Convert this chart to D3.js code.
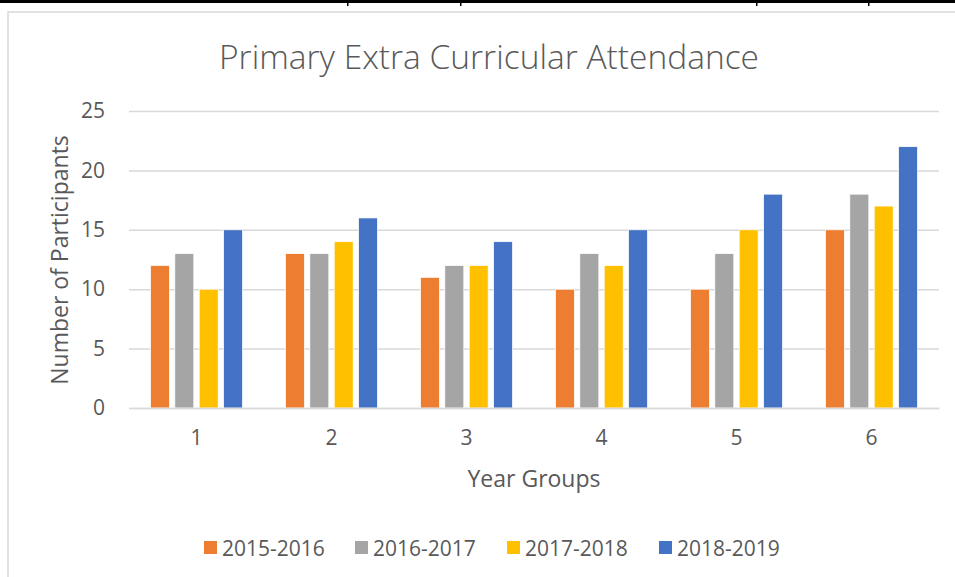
<!DOCTYPE html>
<html><head><meta charset="utf-8">
<script src="https://cdn.jsdelivr.net/npm/d3@7"></script>
<style>html,body{margin:0;padding:0;background:#fff;overflow:hidden}</style>
</head><body>
<svg id="c" width="955" height="577"></svg>
<script>
const categories = ["1","2","3","4","5","6"];
const seriesNames = ["2015-2016","2016-2017","2017-2018","2018-2019"];
const s2015 = [12,13,11,10,10,15];
const s2016 = [13,13,12,13,13,18];
const s2017 = [10,14,12,12,15,17];
const s2018 = [15,16,14,15,18,22];
const yTicks = [0,5,10,15,20,25];
const colors = ["#ED7D31","#A5A5A5","#FFC000","#4472C4"];
const seriesValues = [s2015,s2016,s2017,s2018];

const font = "'Open Sans', 'Noto Sans', sans-serif";
const svg = d3.select("#c");

// document table line
svg.append("rect").attr("x",0).attr("y",0).attr("width",955).attr("height",3).attr("fill","#000");
[347,460,756,868].forEach(x=>svg.append("rect").attr("x",x).attr("y",0).attr("width",1.5).attr("height",6).attr("fill","#000"));

// chart border
svg.append("rect").attr("x",8).attr("y",12).attr("width",960).attr("height",580)
  .attr("fill","#fff").attr("stroke","#D9D9D9").attr("stroke-width",1.5);

const pLeft=129, pRight=939, pTop=111, pBottom=408;
const x0 = d3.scaleBand().domain(categories).range([pLeft,pRight]).paddingInner(0.318).paddingOuter(0.159);
const x1 = d3.scaleBand().domain(seriesNames).range([0,x0.bandwidth()]).paddingInner(0.22);
const y = d3.scaleLinear().domain([0,25]).range([pBottom,pTop]);

// gridlines
const yAxis = d3.axisLeft(y).tickValues(yTicks).tickSize(-(pRight-pLeft)).tickPadding(24);
const gy = svg.append("g").attr("transform",`translate(${pLeft},0)`).call(yAxis);
gy.select(".domain").remove();
gy.selectAll(".tick line").attr("stroke","#D9D9D9").attr("stroke-width",1.5);
gy.selectAll(".tick text").attr("fill","#595959").style("font-family",font).style("font-size","21px");

// bars
const g = svg.append("g");
categories.forEach((c,ci)=>{
  seriesNames.forEach((s,si)=>{
    const v = seriesValues[si][ci];
    g.append("rect")
      .attr("x",x0(c)+x1(s)).attr("width",x1.bandwidth())
      .attr("y",y(v)).attr("height",y(0)-y(v))
      .attr("fill",colors[si]).attr("stroke","#fff").attr("stroke-width",0.75);
  });
});

// x axis
const xAxis = d3.axisBottom(x0).tickSize(0).tickPadding(22);
const gx = svg.append("g").attr("transform",`translate(0,${pBottom})`).call(xAxis);
gx.select(".domain").attr("stroke","#D9D9D9").attr("stroke-width",1.5);
gx.selectAll(".tick text").attr("fill","#595959").style("font-family",font).style("font-size","21px");

// title
svg.append("text").attr("x",489).attr("y",69).attr("text-anchor","middle")
  .attr("fill","#595959").style("font-family",font).style("font-size","33.5px").style("font-weight","300")
  .text("Primary Extra Curricular Attendance");

// axis titles
svg.append("text").attr("x",534).attr("y",487).attr("text-anchor","middle")
  .attr("fill","#595959").style("font-family",font).style("font-size","23px")
  .text("Year Groups");
svg.append("text").attr("transform","translate(68,260) rotate(-90)").attr("text-anchor","middle")
  .attr("fill","#595959").style("font-family",font).style("font-size","23px")
  .text("Number of Participants");

// legend
const legX = [204,355,507,659];
const leg = svg.append("g");
seriesNames.forEach((s,i)=>{
  leg.append("rect").attr("x",legX[i]).attr("y",541).attr("width",13).attr("height",13).attr("fill",colors[i]);
  leg.append("text").attr("x",legX[i]+18).attr("y",555.5).attr("fill","#595959")
    .style("font-family",font).style("font-size","21px").text(s);
});
</script>
</body></html>
